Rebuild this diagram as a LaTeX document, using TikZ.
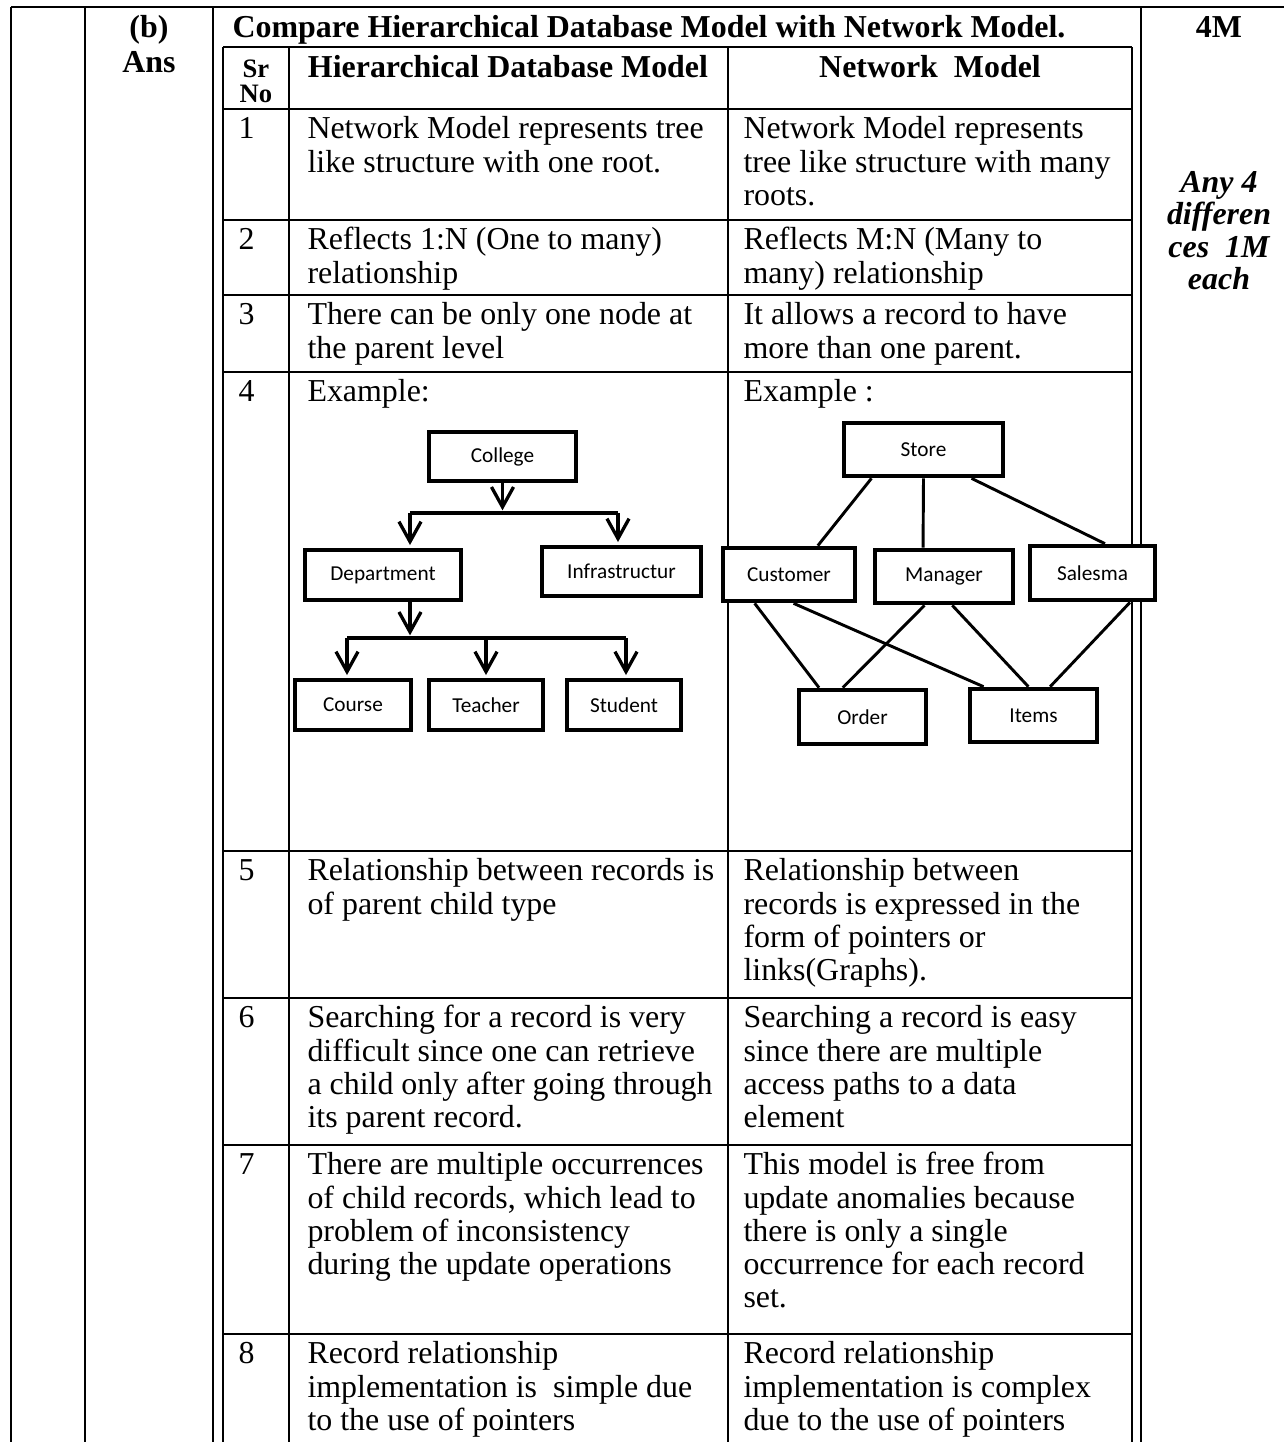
\documentclass[tikz,border=0pt]{standalone}
\usepackage{fontspec}
\setmainfont{Liberation Serif}
\newfontfamily\calibri{Carlito}
\usepackage{tikz}
\usetikzlibrary{arrows.meta,calc}

\newcommand{\pix}{0.376pt}

\begin{document}
\begin{tikzpicture}[x=0.376pt, y=-0.376pt,
    rule/.style={line width=0.75pt},
    cell/.style={anchor=north west, inner sep=0pt, align=left, font=\fontsize{12}{12.5}\selectfont},
    head/.style={anchor=base, inner sep=0pt, font=\bfseries\fontsize{12}{12.5}\selectfont},
    box/.style 2 args={draw, line width=1.75pt, fill=white, inner sep=0pt,
        minimum width=#1*\pix, minimum height=#2*\pix, font=\calibri\fontsize{8}{9}\selectfont},
    hline/.style={line width=1.25pt},
    harrow/.style={hline, shorten >=1pt, -{Straight Barb[length=7.5pt,width=8.3pt]}},
    nline/.style={line width=1.1pt}]
    \useasboundingbox (0,0) rectangle (1284,1442);

    % Outer frame
    \draw[rule] (11,7) -- (1284,7);
    \draw[rule] (11,7) -- (11,1442) (85,7) -- (85,1442) (213,7) -- (213,1442) (1141,7) -- (1141,1442);

    % Inner table
    \draw[rule] (223,47) -- (1132,47);
    \draw[rule] (223,47) -- (223,1442) (289,47) -- (289,1442) (728,47) -- (728,1442) (1132,47) -- (1132,1442);
    \draw[rule] (223,109) -- (1132,109) (223,220) -- (1132,220) (223,295) -- (1132,295) (223,372) -- (1132,372);
    \draw[rule] (223,851) -- (1132,851) (223,998) -- (1132,998) (223,1145) -- (1132,1145) (223,1334) -- (1132,1334);

    % Headings
    \node[head] (qno) at (149,37) {(b)};
    \node[head] (ans) at (149,72) {Ans};
    \node[head, anchor=base west] (question) at (232,37) {Compare Hierarchical Database Model with Network Model.};
    \node[head] (marks) at (1219,37) {4M};
    \node[head, font=\bfseries\fontsize{10}{11}\selectfont] (sr) at (256,77) {Sr};
    \node[head, font=\bfseries\fontsize{10}{11}\selectfont] (no) at (256,102) {No};
    \node[head] (hhier) at (508,77) {Hierarchical Database Model};
    \node[head] (hnet) at (930,77) {Network\ \ Model};
    \node[anchor=north, inner sep=0pt, align=center, font=\bfseries\itshape\fontsize{12}{12.2}\selectfont] (scheme) at (1219,169)
        {\strut Any 4\\differen\\ces\ \ 1M\\each};

    % Row 1
    \node[cell] (n1) at (238,115) {\strut 1};
    \node[cell] (h1) at (307,115) {\strut Network Model represents tree\\like structure with one root.};
    \node[cell] (w1) at (743,115) {\strut Network Model represents\\tree like structure with many\\roots.};

    % Row 2
    \node[cell] (n2) at (238,226) {\strut 2};
    \node[cell] (h2) at (307,226) {\strut Reflects 1:N (One to many)\\relationship};
    \node[cell] (w2) at (743,226) {\strut Reflects M:N (Many to\\many) relationship};

    % Row 3
    \node[cell] (n3) at (238,301) {\strut 3};
    \node[cell] (h3) at (307,301) {\strut There can be only one node at\\the parent level};
    \node[cell] (w3) at (743,301) {\strut It allows a record to have\\more than one parent.};

    % Row 4
    \node[cell] (n4) at (238,378) {\strut 4};
    \node[cell] (h4) at (307,378) {\strut Example:};
    \node[cell] (w4) at (743,378) {\strut Example :};

    % Hierarchical example
    \node[box={147}{49}] (college) at (502.5,456.5) {College};
    \node[box={156}{50}] (department) at (383,575) {Department};
    \node[box={159}{49}] (infra) at (621.5,571.5) {Infrastructur};
    \node[box={116}{50}] (course) at (353,705) {Course};
    \node[box={114}{50}] (teacher) at (486,705) {Teacher};
    \node[box={114}{50}] (student) at (624,705) {Student};

    \coordinate (hbl) at (410,513);
    \coordinate (hbr) at (618,513);
    \draw[hline] (hbl) -- (hbr);
    \draw[harrow] (college.south) -- (college.south |- hbl);
    \draw[harrow] (hbl) -- (hbl |- department.north);
    \draw[harrow] (hbr) -- (hbr |- infra.north);

    \coordinate (dbl) at (347,638);
    \coordinate (dbr) at (626,638);
    \draw[hline] (dbl) -- (dbr);
    \draw[harrow] (hbl |- department.south) -- (hbl |- dbl);
    \draw[harrow] (dbl) -- (dbl |- course.north);
    \draw[harrow] (teacher.north |- dbl) -- (teacher.north);
    \draw[harrow] (dbr) -- (dbr |- student.north);

    % Network example
    \node[box={159}{53}] (store) at (923.5,449.5) {Store};
    \node[box={132}{53}] (customer) at (789,574.5) {Customer};
    \node[box={138}{53}] (manager) at (944,576.5) {Manager};
    \node[box={125}{54}] (salesma) at (1092.5,573) {Salesma};
    \node[box={127}{54}] (order) at (862.5,717) {Order};
    \node[box={127}{53}] (items) at (1033.5,715.5) {Items};

    \draw[nline] (store.209) -- (customer.45);
    \draw[nline] (store.south) -- (manager.126);
    \draw[nline] (store.329) -- (salesma.67);
    \draw[nline] (customer.220) -- (order.146);
    \draw[nline] (customer.279) -- (items.150);
    \draw[nline] (manager.236) -- (order.124);
    \draw[nline] (manager.286) -- (items.100);
    \draw[nline] (salesma.322) -- (items.60);

    % Row 5
    \node[cell] (n5) at (238,857) {\strut 5};
    \node[cell] (h5) at (307,857) {\strut Relationship between records is\\of parent child type};
    \node[cell] (w5) at (743,857) {\strut Relationship between\\records is expressed in the\\form of pointers or\\links(Graphs).};

    % Row 6
    \node[cell] (n6) at (238,1004) {\strut 6};
    \node[cell] (h6) at (307,1004) {\strut Searching for a record is very\\difficult since one can retrieve\\a child only after going through\\its parent record.};
    \node[cell] (w6) at (743,1004) {\strut Searching a record is easy\\since there are multiple\\access paths to a data\\element};

    % Row 7
    \node[cell] (n7) at (238,1151) {\strut 7};
    \node[cell] (h7) at (307,1151) {\strut There are multiple occurrences\\of child records, which lead to\\problem of inconsistency\\during the update operations};
    \node[cell] (w7) at (743,1151) {\strut This model is free from\\update anomalies because\\there is only a single\\occurrence for each record\\set.};

    % Row 8
    \node[cell] (n8) at (238,1340) {\strut 8};
    \node[cell] (h8) at (307,1340) {\strut Record relationship\\implementation is\ \ simple due\\to the use of pointers};
    \node[cell] (w8) at (743,1340) {\strut Record relationship\\implementation is complex\\due to the use of pointers};
\end{tikzpicture}
\end{document}
